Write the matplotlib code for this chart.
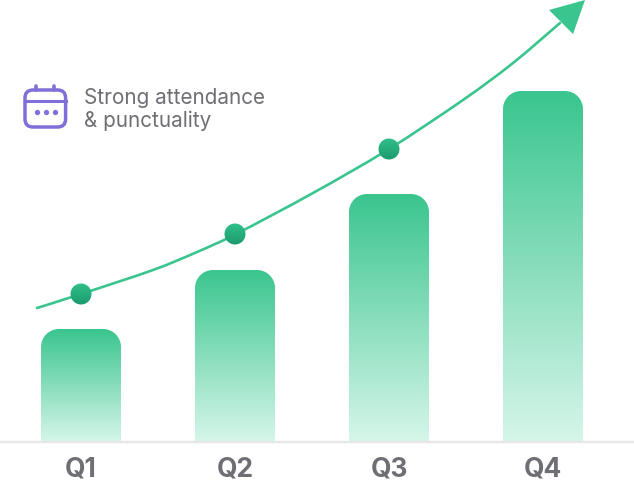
import numpy as np
import matplotlib
matplotlib.use("Agg")
import matplotlib.pyplot as plt
from matplotlib.colors import LinearSegmentedColormap
from matplotlib.patches import FancyBboxPatch, PathPatch, Circle, Polygon
from matplotlib.path import Path

quarters = ["Q1", "Q2", "Q3", "Q4"]
bar_values = [113, 172, 248, 351]
marker_values = [148, 208, 293]
trend_x = [37, 81, 153, 197, 236, 313, 389, 463, 513, 560]
trend_y = [134, 148, 172, 190, 208, 249, 293, 342, 379, 419]
caption_lines = ["Strong attendance", "& punctuality"]

GREEN = "#3AC58E"
bar_cmap = LinearSegmentedColormap.from_list("bar", [GREEN, "#D6F6EA"])
dot_cmap = LinearSegmentedColormap.from_list("dot", ["#31C08B", "#1C9A6D"])
PURPLE = "#7E70D8"
GREY = "#6E6F74"

plt.rcParams["font.family"] = ["Inter", "DejaVu Sans"]
fig = plt.figure(figsize=(6.34, 4.83), dpi=100)
ax = fig.add_axes([0, 0, 1, 1])
ax.set_xlim(0, 634)
ax.set_ylim(-41, 442)
ax.axis("off")

gradient = np.linspace(0, 1, 256).reshape(-1, 1)
centers = 81 + 154 * np.arange(len(quarters))


def rounded_top(x0, x1, top, r):
    k = 0.5523 * r
    verts = [(x0, 0), (x0, top - r), (x0, top - r + k), (x0 + r - k, top), (x0 + r, top),
             (x1 - r, top), (x1 - r + k, top), (x1, top - r + k), (x1, top - r), (x1, 0), (x0, 0)]
    codes = [Path.MOVETO, Path.LINETO, Path.CURVE4, Path.CURVE4, Path.CURVE4,
             Path.LINETO, Path.CURVE4, Path.CURVE4, Path.CURVE4, Path.LINETO, Path.CLOSEPOLY]
    return Path(verts, codes)


def smooth_path(xs, ys):
    # Catmull-Rom spline through the knots, expressed as cubic Bezier segments
    pts = np.column_stack([xs, ys]).astype(float)
    padded = np.vstack([pts[0], pts, pts[-1]])
    verts = [pts[0]]
    codes = [Path.MOVETO]
    for i in range(1, len(padded) - 2):
        p0, p1, p2, p3 = padded[i - 1], padded[i], padded[i + 1], padded[i + 2]
        verts += [p1 + (p2 - p0) / 6, p2 - (p3 - p1) / 6, p2]
        codes += [Path.CURVE4] * 3
    return Path(verts, codes)


# Bars with a vertical fade, clipped to a shape rounded at the top
for c, v, label in zip(centers, bar_values, quarters):
    x0, x1 = c - 40, c + 40
    patch = PathPatch(rounded_top(x0, x1, v, 18), fc="none", ec="none", transform=ax.transData)
    ax.add_patch(patch)
    im = ax.imshow(gradient, cmap=bar_cmap, extent=(x0, x1, 0, v), aspect="auto", zorder=2, vmin=0, vmax=1)
    im.set_clip_path(patch)
    ax.text(c, -27, label, ha="center", va="center", fontsize=19, fontweight="bold", color=GREY)

# Baseline
ax.plot([0, 634], [0, 0], color="#E7E7E7", lw=1.7, zorder=3, solid_capstyle="round")

# Growth curve with its arrow head
ax.add_patch(PathPatch(smooth_path(trend_x, trend_y), fc="none", ec=GREEN, lw=1.9, zorder=4, capstyle="round"))
ax.add_patch(Polygon([(585, 442), (549, 432), (573, 408)], closed=True, fc=GREEN, ec="none", zorder=5))

# Shaded markers sitting on the curve
for c, v in zip(centers, marker_values):
    circ = Circle((c, v), 10.5, fc="none", ec="none", transform=ax.transData)
    ax.add_patch(circ)
    im = ax.imshow(gradient, cmap=dot_cmap, extent=(c - 11, c + 11, v - 11, v + 11), aspect="auto", zorder=6, vmin=0, vmax=1)
    im.set_clip_path(circ)

ax.set_xlim(0, 634)
ax.set_ylim(-41, 442)

# Calendar icon
ax.add_patch(FancyBboxPatch((25, 315), 40.6, 37, boxstyle="round,pad=0,rounding_size=8", fc="none", ec=PURPLE, lw=2.5, zorder=5))
ax.plot([25, 65.6], [341, 341], color=PURPLE, lw=2.2, zorder=5)
for x in (36, 54):
    ax.plot([x, x], [352, 356], color=PURPLE, lw=2.6, solid_capstyle="round", zorder=5)
ax.plot([36.7, 45.5, 54.5], [330, 330, 330], ls="none", marker="o", ms=3.8, mew=0, color=PURPLE, zorder=5)

for line, y in zip(caption_lines, (343.5, 321)):
    ax.text(84, y, line, ha="left", va="center", fontsize=14.9, color=GREY)

fig.savefig("out.png", dpi=100)
